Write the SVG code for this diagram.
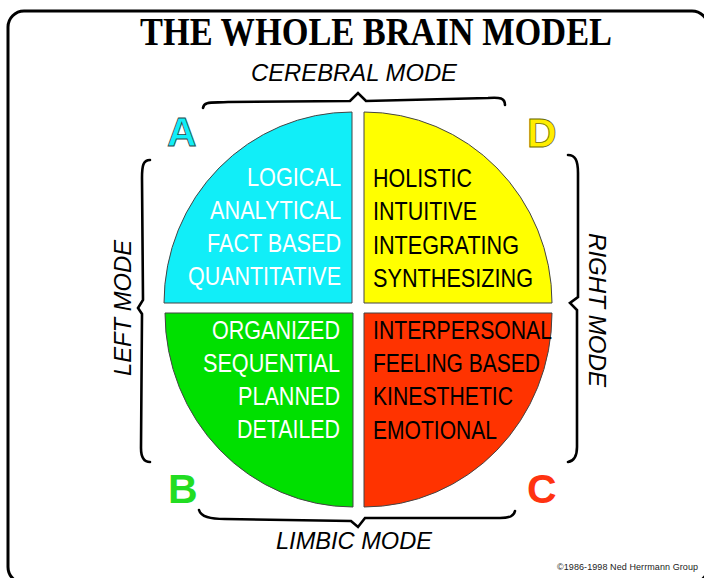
<svg xmlns="http://www.w3.org/2000/svg" width="704" height="578" viewBox="0 0 704 578">
<style>
.frame{fill:#fff;stroke:#000;stroke-width:3}
.q{stroke:#444;stroke-width:1}
.qt{font-family:"Liberation Sans",Arial,sans-serif;font-size:25px}
.w{fill:#fff}
.k{fill:#000}
.mode{font-family:"Liberation Sans",Arial,sans-serif;font-style:italic;font-size:24px;fill:#000}
.brace{fill:none;stroke:#000;stroke-width:2.6;stroke-linejoin:miter;stroke-linecap:round}
.let{font-family:"Liberation Sans",Arial,sans-serif;font-weight:bold;font-size:41px}
</style>
<rect class="frame" x="8" y="11" width="700" height="572" rx="16"/>
<text id="title" x="140" y="45" font-family="'Liberation Serif','Times New Roman',serif" font-weight="bold" font-size="40" textLength="472" lengthAdjust="spacingAndGlyphs" fill="#000">THE WHOLE BRAIN MODEL</text>

<g id="quadA">
<path class="q" fill="#11EEF8" d="M352,303 L164,303 A188,191 0 0 1 352,112 Z"/>
<g class="qt w" text-anchor="end">
<text x="341" y="186" textLength="94" lengthAdjust="spacingAndGlyphs">LOGICAL</text>
<text x="341" y="219" textLength="131" lengthAdjust="spacingAndGlyphs">ANALYTICAL</text>
<text x="341" y="252" textLength="134" lengthAdjust="spacingAndGlyphs">FACT BASED</text>
<text x="341" y="285" textLength="153" lengthAdjust="spacingAndGlyphs">QUANTITATIVE</text>
</g>
<text class="let" x="167" y="146" fill="#11EEF8" stroke="#2a4a4a" stroke-width="0.8">A</text>
</g>

<g id="quadD">
<path class="q" fill="#FFFF00" d="M364,303 L364,112 A188,191 0 0 1 552,303 Z"/>
<g class="qt k">
<text x="373" y="187" textLength="99" lengthAdjust="spacingAndGlyphs">HOLISTIC</text>
<text x="373" y="220" textLength="104" lengthAdjust="spacingAndGlyphs">INTUITIVE</text>
<text x="373" y="254" textLength="146" lengthAdjust="spacingAndGlyphs">INTEGRATING</text>
<text x="373" y="287" textLength="160" lengthAdjust="spacingAndGlyphs">SYNTHESIZING</text>
</g>
<text class="let" x="527" y="147" fill="#FFEE00" stroke="#6a6a00" stroke-width="0.8">D</text>
</g>

<g id="quadB">
<path class="q" fill="#00E000" d="M353,313 L353,507 A188,194 0 0 1 165,313 Z"/>
<g class="qt w" text-anchor="end">
<text x="340" y="339" textLength="128" lengthAdjust="spacingAndGlyphs">ORGANIZED</text>
<text x="340" y="372" textLength="137" lengthAdjust="spacingAndGlyphs">SEQUENTIAL</text>
<text x="340" y="405" textLength="102" lengthAdjust="spacingAndGlyphs">PLANNED</text>
<text x="340" y="438" textLength="103" lengthAdjust="spacingAndGlyphs">DETAILED</text>
</g>
<text class="let" x="168" y="503" fill="#22DD22">B</text>
</g>

<g id="quadC">
<path class="q" fill="#FF3300" d="M364,313 L552,313 A188,194 0 0 1 364,507 Z"/>
<g class="qt k">
<text x="373" y="339" textLength="179" lengthAdjust="spacingAndGlyphs">INTERPERSONAL</text>
<text x="373" y="372" textLength="167" lengthAdjust="spacingAndGlyphs">FEELING BASED</text>
<text x="373" y="405" textLength="140" lengthAdjust="spacingAndGlyphs">KINESTHETIC</text>
<text x="373" y="439" textLength="124" lengthAdjust="spacingAndGlyphs">EMOTIONAL</text>
</g>
<text class="let" x="527" y="503" fill="#FF3311">C</text>
</g>

<g id="connectors">
<path class="brace" d="M203,108 C204,101 212,103 228,102 L350,101 L358,93 L366,101 L488,98 C500,97 505,98 505,105"/>
<path class="brace" d="M199,510 C201,517 210,519 225,519 L351,521 L358,527 L365,518 L500,518 C510,518 514,516 515,511"/>
<path class="brace" d="M150,160 C143,160 142,166 142,178 L143,300 L138,308 L142,314 L141,448 C141,458 144,462 150,462"/>
<path class="brace" d="M568,155 C575,155 578,160 578,173 L578,297 L570,303 L577,310 L577,447 C577,456 574,461 568,462"/>
</g>

<g id="labels">
<text class="mode" x="354" y="81" text-anchor="middle" textLength="206" lengthAdjust="spacingAndGlyphs">CEREBRAL MODE</text>
<text class="mode" x="354" y="549" text-anchor="middle" textLength="156" lengthAdjust="spacingAndGlyphs">LIMBIC MODE</text>
<text class="mode" transform="translate(131,308) rotate(-90)" text-anchor="middle" textLength="136" lengthAdjust="spacingAndGlyphs">LEFT MODE</text>
<text class="mode" transform="translate(589,310) rotate(90)" text-anchor="middle" textLength="154" lengthAdjust="spacingAndGlyphs">RIGHT MODE</text>
</g>
<text id="copyright" x="557" y="570" font-family="'Liberation Sans',Arial,sans-serif" font-size="9" textLength="141" lengthAdjust="spacing" fill="#222">©1986-1998 Ned Herrmann Group</text>
</svg>
